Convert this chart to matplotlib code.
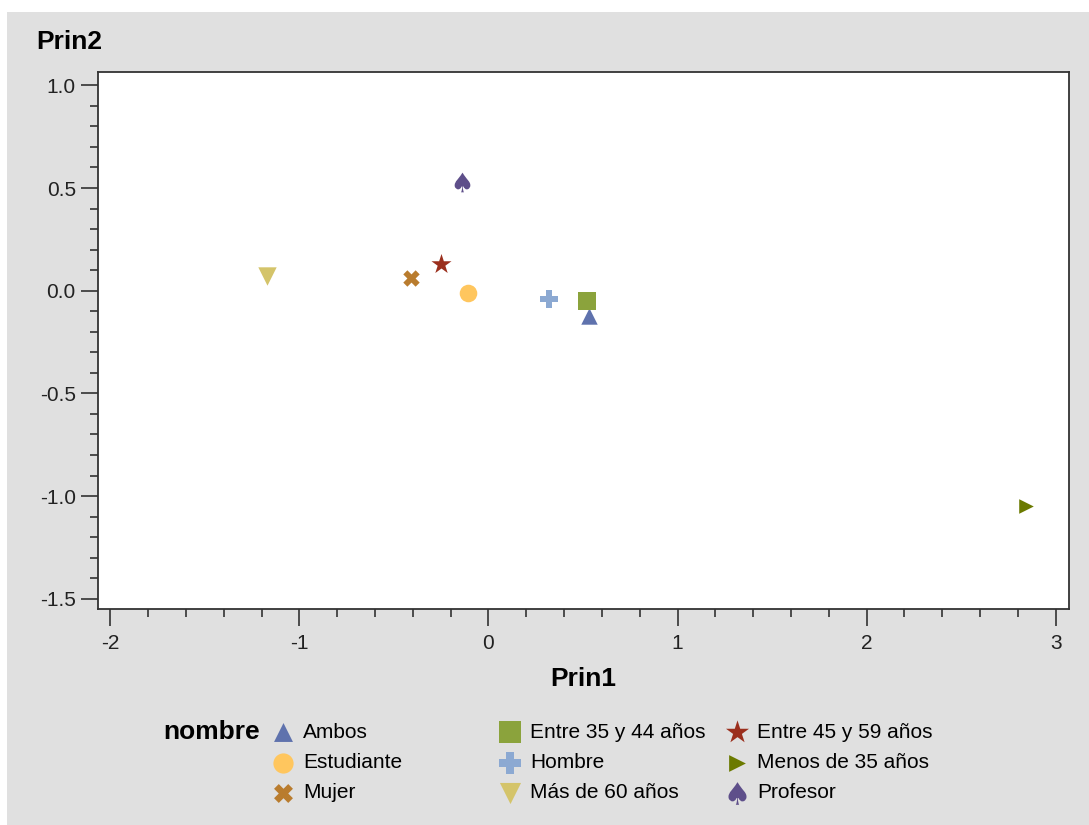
import matplotlib.pyplot as plt
from matplotlib.patches import Rectangle
from matplotlib.ticker import MultipleLocator, FormatStrFormatter

plt.rcParams["font.family"] = ["Liberation Sans", "DejaVu Sans"]
plt.rcParams["axes.unicode_minus"] = False

# scores per group (Prin1, Prin2)
nombres = ["Ambos", "Entre 35 y 44 años", "Entre 45 y 59 años", "Estudiante", "Hombre",
           "Menos de 35 años", "Mujer", "Más de 60 años", "Profesor"]
prin1 = [0.53, 0.52, -0.25, -0.11, 0.32, 2.84, -0.41, -1.17, -0.14]
prin2 = [-0.125, -0.05, 0.13, -0.01, -0.04, -1.05, 0.06, 0.07, 0.53]

# marker, colour, size (pt^2)
estilos = {
    "Ambos": ("^", "#5f72ad", 140),
    "Entre 35 y 44 años": ("s", "#8ba33c", 185),
    "Entre 45 y 59 años": ("*", "#9b2f1d", 230),
    "Estudiante": ("o", "#ffc65e", 160),
    "Hombre": ("P", "#8ca9d2", 180),
    "Menos de 35 años": (">", "#6b7a00", 110),
    "Mujer": ("X", "#b97c2e", 140),
    "Más de 60 años": ("v", "#d4c46a", 175),
    "Profesor": ("$\u2660$", "#5e4f8a", 200),
}

W, H = 1089, 825
fig = plt.figure(figsize=(W / 100, H / 100), dpi=100, facecolor="white")
fig.patches.append(Rectangle((7 / W, 0), 1, 1 - 12 / H, transform=fig.transFigure,
                             facecolor="#e0e0e0", edgecolor="none", zorder=-10))

ax = fig.add_axes([98 / W, 1 - 609 / H, (1069 - 98) / W, (609 - 72) / H])
ax.set_facecolor("white")

handles = {}
for nom, x, y in zip(nombres, prin1, prin2):
    m, c, s = estilos[nom]
    handles[nom] = ax.scatter([x], [y], marker=m, s=s, color=c, linewidths=0, zorder=3)

ax.set_xlim(-2.065, 3.07)
ax.set_ylim(-1.55, 1.065)
ax.xaxis.set_major_locator(MultipleLocator(1))
ax.xaxis.set_minor_locator(MultipleLocator(0.2))
ax.yaxis.set_major_locator(MultipleLocator(0.5))
ax.yaxis.set_minor_locator(MultipleLocator(0.1))
ax.xaxis.set_major_formatter(FormatStrFormatter("%d"))
ax.yaxis.set_major_formatter(FormatStrFormatter("%.1f"))

dark = "#333333"
for sp in ax.spines.values():
    sp.set_color(dark)
    sp.set_linewidth(1.3)
ax.tick_params(which="major", length=12, width=1.2, color=dark, labelsize=15,
               labelcolor="#222222", pad=4)
ax.tick_params(axis="x", which="major", pad=6)
ax.tick_params(which="minor", length=6, width=1.2, color=dark)

fig.text(36 / W, 1 - 42 / H, "Prin2", fontsize=19, fontweight="bold", va="center", ha="left")
fig.text(583 / W, 1 - 679 / H, "Prin1", fontsize=19, fontweight="bold", va="center", ha="center")
fig.text(163 / W, 1 - 732 / H, "nombre", fontsize=19, fontweight="bold", va="center", ha="left")

# legend laid out row-wise in three fixed columns
columnas = [[nombres[i] for i in (0, 3, 6)], [nombres[i] for i in (1, 4, 7)],
            [nombres[i] for i in (2, 5, 8)]]
for xc, col in zip([283, 510, 737], columnas):
    fig.legend([handles[n] for n in col], col, loc="center left",
               bbox_to_anchor=((xc - 10.4) / W, 1 - 762.5 / H), frameon=False,
               fontsize=15, borderpad=0, borderaxespad=0, handlelength=1.0,
               handletextpad=0.45, labelspacing=0.54, scatterpoints=1,
               markerscale=1.15)

fig.savefig("out.png", dpi=100, facecolor=fig.get_facecolor())
